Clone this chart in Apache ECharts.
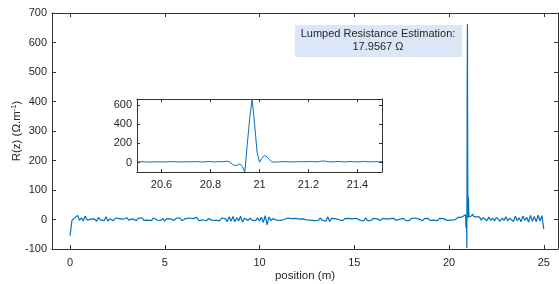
<!DOCTYPE html>
<html>
<head>
<meta charset="utf-8">
<script src="https://cdn.jsdelivr.net/npm/echarts@6/dist/echarts.min.js"></script>
<style>
  html, body { margin: 0; padding: 0; background: #fff; }
  #chart { width: 559px; height: 284px; }
</style>
</head>
<body>
<div id="chart"></div>
<script>
// R(z) samples, 0.0 .. 20.4 m every 0.1 m
var leadStart = 0, leadStep = 0.1;
var leadValues = [
  -55, -4, 3, 1, 14, -3, 6, -5, 12, -2,
  4, 1, -3, 2, -6, 7, -1, 3, -4, 9,
  -5, 2, 0, -4, 5, -1, 3, -3, 1, -5,
  6, -2, 3, 2, -1, -4, 4, 0, 6, -3,
  1, -2, 3, -4, 5, 1, -2, 2, -3, 4,
  -6, 3, -1, 2, 0, -3, 4, -2, 6, -4,
  1, 3, -3, 5, -1, 3, -2, 7, -4, 2,
  -1, 4, -5, 3, 1, -2, 4, -3, 2, -4,
  5, -1, 3, -7, 9, -6, 10, -8, 6, -5,
  11, -9, 4, 1, -3, 5, -2, 3, -4, 6,
  -5, 8, -10, 13, -18, 9, -4, 3, 1, -2,
  4, -3, 2, 0, -4, 5, -1, 3, -3, 4,
  -2, 1, -3, 2, 3, -1, 4, -2, 3, -4,
  2, -3, 5, -2, 3, -6, 9, -7, 4, -2,
  3, 1, -1, 2, -4, 3, -2, 4, -1, 2,
  -3, 4, 2, -2, 3, -5, 6, -4, 2, -3,
  4, -1, 2, 1, -3, 4, -2, 1, -4, 3,
  -2, 4, -3, 3, 1, -1, 4, -3, 2, -4,
  3, -2, 5, -1, 2, 0, -4, 3, -1, 4,
  -3, 2, -2, 3, -4, 4, -2, 3, 1, -3,
  2, -2, 4, -1, 3
];

// fine samples around the lumped resistance, 20.50 .. 21.50 m every 0.01 m
var peakStart = 20.5, peakStep = 0.01;
var peakValues = [
  8, 9, 10, 9, 7, 6, 7, 9, 10, 9,
  8, 7, 8, 10, 11, 10, 8, 7, 8, 9,
  10, 9, 8, 9, 11, 10, 8, 7, 9, 12,
  10, 8, 9, 11, 10, 9, 12, 16, 3, -18,
  -28, -26, -12, -40, -97, 190, 460, 662, 400, 110,
  5, 48, 75, 62, 32, 10, 5, 7, 9, 10,
  11, 10, 9, 8, 9, 10, 11, 10, 9, 10,
  11, 12, 10, 9, 10, 14, 18, 15, 11, 9,
  8, 10, 12, 11, 9, 8, 10, 12, 11, 9,
  8, 9, 11, 12, 10, 8, 9, 11, 10, 9,
  10
];

// 21.6 .. 25.0 m every 0.1 m
var tailStart = 21.6, tailStep = 0.1;
var tailValues = [
  9, -2, 6, 1, -4, 8, -3, 5, -5, 7,
  2, -6, 5, -3, 9, -5, 4, 8, -7, 11,
  -4, 6, -8, 12, -3, 7, -9, 14, -6, 10,
  -8, 15, -5, 13, -33
];

var mainXTicks = [0, 5, 10, 15, 20, 25];
var insetXTicks = [20.6, 20.8, 21, 21.2, 21.4];
var insetYTicks = [0, 200, 400, 600];
var noteText = 'Lumped Resistance Estimation:\n17.9567 Ω';

function toPairs(start, step, vals) {
  return vals.map(function (v, i) {
    return [+(start + i * step).toFixed(3), v];
  });
}

var peakData = toPairs(peakStart, peakStep, peakValues);
var mainData = toPairs(leadStart, leadStep, leadValues)
  .concat(peakData)
  .concat(toPairs(tailStart, tailStep, tailValues));

var font = "'Liberation Sans', Arial, sans-serif";
var ink = '#262626';
var axisCol = '#333';

function boxAxis(extra) {
  var base = {
    type: 'value',
    axisLine: { show: true, onZero: false, lineStyle: { color: axisCol, width: 1 } },
    axisTick: { show: true, inside: true, length: 4, lineStyle: { color: axisCol } },
    axisLabel: { show: false },
    splitLine: { show: false }
  };
  for (var k in extra) base[k] = extra[k];
  return base;
}

var chart = echarts.init(document.getElementById('chart'));
chart.setOption({
  animation: false,
  backgroundColor: '#fff',
  textStyle: { fontFamily: font },
  grid: [
    { left: 52, top: 13, width: 506, height: 236, outerBoundsMode: 'none', containLabel: false },
    { left: 137, top: 99, width: 245, height: 73, outerBoundsMode: 'none', containLabel: false,
      show: true, backgroundColor: '#fff', borderWidth: 0, z: 5 }
  ],
  xAxis: [
    boxAxis({
      gridIndex: 0, position: 'bottom', min: -0.95, max: 25.75,
      axisTick: { show: true, inside: true, length: 4, lineStyle: { color: axisCol }, customValues: mainXTicks },
      axisLabel: { show: true, color: ink, fontSize: 11, margin: 8, customValues: mainXTicks },
      name: 'position (m)', nameLocation: 'middle', nameGap: 21, nameMoveOverlap: false,
      nameTextStyle: { color: ink, fontSize: 11.5 }
    }),
    boxAxis({
      gridIndex: 0, position: 'top', min: -0.95, max: 25.75,
      axisTick: { show: true, inside: true, length: 4, lineStyle: { color: axisCol }, customValues: mainXTicks }
    }),
    boxAxis({
      gridIndex: 1, position: 'bottom', min: 20.5, max: 21.5, z: 6,
      axisTick: { show: true, inside: true, length: 3, lineStyle: { color: axisCol }, customValues: insetXTicks },
      axisLabel: {
        show: true, color: ink, fontSize: 11, margin: 7, customValues: insetXTicks,
        formatter: function (v) { return String(+v.toFixed(1)); }
      }
    }),
    boxAxis({
      gridIndex: 1, position: 'top', min: 20.5, max: 21.5, z: 6,
      axisTick: { show: true, inside: true, length: 3, lineStyle: { color: axisCol }, customValues: insetXTicks }
    })
  ],
  yAxis: [
    boxAxis({
      gridIndex: 0, position: 'left', min: -100, max: 700, interval: 100,
      axisLabel: { show: true, color: ink, fontSize: 11, margin: 5 },
      name: 'R(z) (Ω.m{sup|-1})', nameLocation: 'middle', nameGap: 28, nameRotate: 90,
      nameMoveOverlap: false,
      nameTextStyle: {
        color: ink, fontSize: 11.5,
        rich: { sup: { fontSize: 7.5, color: ink, padding: [0, 0, 6, 0] } }
      }
    }),
    boxAxis({
      gridIndex: 0, position: 'right', min: -100, max: 700, interval: 100
    }),
    boxAxis({
      gridIndex: 1, position: 'left', min: -97, max: 662, z: 6,
      axisTick: { show: true, inside: true, length: 3, lineStyle: { color: axisCol }, customValues: insetYTicks },
      axisLabel: { show: true, color: ink, fontSize: 11, margin: 5, customValues: insetYTicks }
    }),
    boxAxis({
      gridIndex: 1, position: 'right', min: -97, max: 662, z: 6,
      axisTick: { show: true, inside: true, length: 3, lineStyle: { color: axisCol }, customValues: insetYTicks }
    })
  ],
  series: [
    {
      name: 'R(z)', type: 'line', xAxisIndex: 0, yAxisIndex: 0,
      data: mainData, showSymbol: false, symbol: 'none',
      lineStyle: { color: '#0072BD', width: 1.2 }, z: 2
    },
    {
      name: 'R(z) zoom', type: 'line', xAxisIndex: 2, yAxisIndex: 2,
      data: peakData, showSymbol: false, symbol: 'none',
      lineStyle: { color: '#0072BD', width: 1 }, z: 6
    }
  ],
  graphic: [
    {
      type: 'rect', left: 295, top: 25, z: 10,
      shape: { width: 167, height: 32 },
      style: { fill: '#dbe7f6' }
    },
    {
      type: 'text', x: 378, y: 40, z: 11,
      style: {
        text: noteText, align: 'center', verticalAlign: 'middle',
        font: '11px ' + font, fill: ink, lineHeight: 13
      }
    }
  ]
});
</script>
</body>
</html>
